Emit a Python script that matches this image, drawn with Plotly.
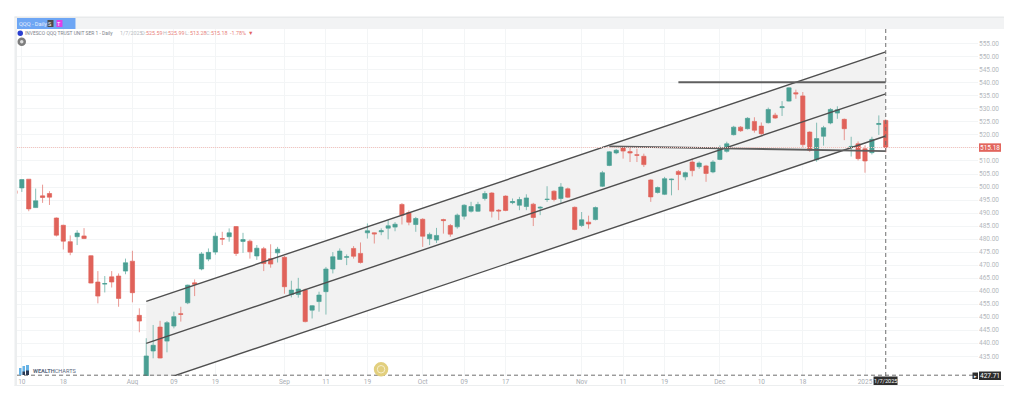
import plotly.graph_objects as go

dates = [
 "2024-07-09","2024-07-10","2024-07-11","2024-07-12","2024-07-15","2024-07-16","2024-07-17","2024-07-18","2024-07-19",
 "2024-07-22","2024-07-23","2024-07-24","2024-07-25","2024-07-26","2024-07-29","2024-07-30","2024-07-31",
 "2024-08-01","2024-08-02","2024-08-05","2024-08-06","2024-08-07","2024-08-08","2024-08-09","2024-08-12","2024-08-13","2024-08-14","2024-08-15","2024-08-16",
 "2024-08-19","2024-08-20","2024-08-21","2024-08-22","2024-08-23","2024-08-26","2024-08-27","2024-08-28","2024-08-29","2024-08-30",
 "2024-09-03","2024-09-04","2024-09-05","2024-09-06","2024-09-09","2024-09-10","2024-09-11","2024-09-12","2024-09-13","2024-09-16","2024-09-17","2024-09-18","2024-09-19","2024-09-20",
 "2024-09-23","2024-09-24","2024-09-25","2024-09-26","2024-09-27","2024-09-30",
 "2024-10-01","2024-10-02","2024-10-03","2024-10-04","2024-10-07","2024-10-08","2024-10-09","2024-10-10","2024-10-11","2024-10-14","2024-10-15","2024-10-16","2024-10-17","2024-10-18",
 "2024-10-21","2024-10-22","2024-10-23","2024-10-24","2024-10-25","2024-10-28","2024-10-29","2024-10-30","2024-10-31",
 "2024-11-01","2024-11-04","2024-11-05","2024-11-06","2024-11-07","2024-11-08","2024-11-11","2024-11-12","2024-11-13","2024-11-14","2024-11-15","2024-11-18","2024-11-19","2024-11-20","2024-11-21","2024-11-22","2024-11-25","2024-11-26","2024-11-27","2024-11-29",
 "2024-12-02","2024-12-03","2024-12-04","2024-12-05","2024-12-06","2024-12-09","2024-12-10","2024-12-11","2024-12-12","2024-12-13","2024-12-16","2024-12-17","2024-12-18","2024-12-19","2024-12-20","2024-12-23","2024-12-24","2024-12-26","2024-12-27","2024-12-30","2024-12-31",
 "2025-01-02","2025-01-03","2025-01-06","2025-01-07"]

opens = [498.6,499.65,503,492.1,496.6,497.5,488.1,485.3,479,480.9,481.2,473.6,463.5,462.7,465.5,465.8,467.7,471.5,450.7,427,
 437,446.2,440.8,446.6,451.3,455.5,463.2,468.5,472.3,475,480.2,480.9,484.8,479.1,479.2,473.5,476.3,472.5,474.7,473,
 458.7,458.7,460.4,452.7,456,459.8,468.5,472.2,473,476.4,474.5,482.4,482.4,482.8,484.2,484.6,493.3,490.2,485.6,487.6,
 480.1,479.6,487.5,485.2,484.7,488.8,490.7,490.7,495.6,497.7,491.1,496.5,494,493,492.5,493.4,491.9,495.2,498.4,495.6,
 499.3,492.2,485.2,486.5,487.5,500.3,508.3,513.1,515.1,513.6,512.4,511.8,502.7,497.9,497.2,502.8,506,503.9,509.6,507.8,
 508.1,505.8,510.6,513.7,520.1,523,522.4,525.2,523.4,524.7,527.6,530.5,533,536.2,535,521.1,510.5,519.5,524.6,528.4,
 526,515.1,516.6,514.7,513.2,524,525.59]
highs = [498.9,502.9,503,499.4,500.9,498.4,488.3,485.5,481.4,483.4,484.2,473.8,467.7,465.8,467.7,466.8,472.5,475.5,453.4,441.9,
 447,448.6,448.5,452.1,454,462.5,464.5,475,476.4,482.5,482.8,484.1,485,482.4,479.8,477.7,477,478,477,473.5,
 464,465.1,461,454.6,459.8,469.3,475,476.4,474.1,477.3,478.7,486,482.5,484.1,487.3,486.5,493.8,491,488.5,488,
 482.5,484.3,487.8,485.8,489.8,493.4,494.3,494.3,498.4,498,491.5,496.8,495.6,496.2,497.2,493.9,492.6,500.3,498.7,501.5,
 499.8,492.5,490.4,489,492.5,506.2,513.8,514.6,515.5,515.1,514.7,512.8,503,500.2,503.9,503.2,506.5,505.9,510.9,509.8,
 508.5,510.3,516,517.4,523.5,523.4,526.8,526.8,524.8,530.5,528.5,533,538.3,537.4,536.5,521.4,524.7,523.5,530.3,531,
 526.3,519.3,517.5,516,519.3,527.5,525.99]
lows = [497.4,498.1,490.7,492,493.9,493.1,481,476,473.8,477.7,480,463,455.3,459.5,461.4,454,466.5,455.7,444.2,425,
 434.2,434.2,436.5,445.7,448.3,455,458.1,468,471.5,474,477.7,479,473.5,474.7,472.5,472,467.7,469,471,459,
 457.6,457.5,448,449.5,452.1,451,466.8,472.2,470,472.5,470.6,480.2,478.3,481.5,479.9,483,485.6,485.3,482.8,477,
 477.7,478.5,482.1,480.9,484,487.5,490.2,490.5,494.8,488.3,487.3,490.7,493.4,491.1,491.1,485,489.2,494.3,494.5,493.9,
 495.8,483.4,484.6,484,487.2,500,508,512.6,510.9,509.6,509.6,507.7,494.3,497.5,496.9,496.8,498.8,502.6,504.1,507,
 502,505.3,510.3,513.2,519.8,521.2,522.1,520.9,520,524.4,526.2,527.3,532.8,533.9,515.2,513.5,509.7,515.9,524.1,526.2,
 518,511.7,510.2,505.5,512.5,520,513.28]
closes = [497.5,502.85,491.6,494.7,496,496.1,481.5,479.2,474.9,482.3,480.2,463.1,458.1,462.9,463.5,457.2,470.9,459.4,448.5,435.1,
 439.2,434.3,447.9,450.2,451.1,462.3,462.6,474.3,474.9,481.1,480,482.4,474.5,479.8,475.1,476.5,470.6,470.4,476.1,461.7,
 460.4,460.8,448.3,454.4,458.5,468.5,473.2,475.4,473.2,473.4,471,483.2,482,483.2,485.1,485.7,489.2,486.5,487.9,481.1,
 481.8,481.4,487.1,481.9,489.2,493,492.5,493.3,497.5,490.7,490.8,491,494.4,495.2,495.8,488.3,492.2,495.3,495.2,500,
 496.1,483.7,487.4,485.8,492.1,505.5,513.5,514.1,513.8,513.1,512.2,508.6,496.2,499.8,503.2,503,504.8,505.5,506.3,509.2,
 505.2,509.6,515,516.6,523,521.6,526.4,521.8,520.5,529.8,526.5,530.8,538.1,535.8,516.3,514.1,518.6,522.8,529.8,529.7,
 522.4,515.6,510.9,510,518.3,524.4,515.18]

tick_dates = ["2024-07-10","2024-07-18","2024-08-01","2024-08-09","2024-08-19","2024-09-03","2024-09-11","2024-09-19",
              "2024-10-01","2024-10-09","2024-10-17","2024-11-01","2024-11-11","2024-11-19","2024-12-02","2024-12-10","2024-12-18","2025-01-02"]
tick_labels = ["10","18","Aug","09","19","Sep","11","19","Oct","09","17","Nov","11","19","Dec","10","18","2025"]
price_ticks = [435,440,445,450,455,460,465,470,475,480,485,490,495,500,505,510,515,520,525,530,535,540,545,550,555]
price_labels = ["435.00","440.00","445.00","450.00","455.00","460.00","465.00","470.00","475.00","480.00","485.00","490.00","495.00",
                "500.00","505.00","510.00","515.00","520.00","525.00","530.00","535.00","540.00","545.00","550.00","555.00"]

channel_x = ["2024-08-05","2025-01-07"]
channel_upper = [456.05,551.9]
channel_mid = [439.95,535.8]
channel_lower = [423.85,519.6]
resistance_x = ["2024-11-21","2025-01-07"]
resistance_y = [540.2,540.2]
support_x = ["2024-11-07","2025-01-07"]
support_y = [515.6,513.8]
last_price = 515.18
cursor_price = 427.71
cursor_date = "2025-01-07"

TEAL = "#4a9f93"; RED = "#e0625a"; LINE = "#4f4f4f"; TXT = "#b4b8bd"
PAGE_OFFSET = 8
W, H = 1024 - PAGE_OFFSET, 396 - PAGE_OFFSET
LEFT, RIGHT, TOP, BOTTOM = 16.5, 978, 28.5, 376
def px(v): return (v - LEFT) / (RIGHT - LEFT)
def py(v): return (BOTTOM - v) / (BOTTOM - TOP)

XRANGE = [0.3, 139.35]
YRANGE = [427.4, 560.7]

fig = go.Figure()
fig.add_trace(go.Scatter(x=dates, y=[None]*len(dates), mode="lines", hoverinfo="skip", showlegend=False))
fig.add_trace(go.Scatter(x=channel_x, y=channel_lower, mode="lines", line=dict(width=0), hoverinfo="skip"))
fig.add_trace(go.Scatter(x=channel_x, y=channel_upper, mode="lines", line=dict(width=0), fill="tonexty",
                         fillcolor="#f2f2f2", hoverinfo="skip"))
over = dict(xaxis="x2", yaxis="y2")
fig.add_trace(go.Candlestick(x=dates, open=opens, high=highs, low=lows, close=closes,
    increasing=dict(line=dict(color="rgba(74,159,147,0.65)", width=1), fillcolor=TEAL),
    decreasing=dict(line=dict(color="rgba(224,98,90,0.65)", width=1), fillcolor=RED),
    whiskerwidth=0, **over))
for ys in (channel_upper, channel_mid, channel_lower):
    fig.add_trace(go.Scatter(x=channel_x, y=ys, mode="lines", line=dict(color=LINE, width=1.4), hoverinfo="skip", **over))
fig.add_trace(go.Scatter(x=resistance_x, y=resistance_y, mode="lines", line=dict(color="#5f5f5f", width=2), hoverinfo="skip", **over))
fig.add_trace(go.Scatter(x=support_x, y=support_y, mode="lines", line=dict(color="#5f5f5f", width=1.8), hoverinfo="skip", **over))

def rect(x0, x1, y0, y1, color, **kw):
    return dict(type="rect", xref="paper", yref="paper", x0=px(x0), x1=px(x1), y0=py(y1), y1=py(y0), fillcolor=color, line_width=0, **kw)
def disc(x0, x1, y0, y1, color):
    return dict(type="circle", xref="paper", yref="paper", x0=px(x0), x1=px(x1), y0=py(y1), y1=py(y0), fillcolor=color, line_width=0)

shapes = [
    rect(14, 16.5, 16, 386, "#eceeef"),
    rect(14, 1004, 385, 386, "#eceeef"),
    rect(14, 1004, 16, 17.5, "#e8eaeb"),
    rect(14, 1004, 17.5, 28.5, "#f2f3f4"),
    rect(16.5, 75, 17.5, 28.5, "#6ea6f4"),
    rect(47, 53, 19.5, 26.5, "#4a4a4a"),
    rect(56, 62, 19.5, 26.5, "#e040e8"),
    disc(17, 22.5, 30, 35.5, "#2a3fd0"),
    disc(17, 25.5, 37, 45.5, "#7d7d7d"),
    disc(19.5, 23, 39.5, 43, "#dddddd"),
    dict(type="line", xref="x domain", yref="y", x0=0, x1=1, y0=last_price, y1=last_price, line=dict(color="#f5c4bf", width=1, dash="1px,1px")),
    dict(type="line", xref="x", yref="y domain", x0=cursor_date, x1=cursor_date, y0=0, y1=1, line=dict(color="#6f6f6f", width=1, dash="4px,3px")),
    dict(type="line", xref="x domain", yref="y", x0=0, x1=1, y0=cursor_price, y1=cursor_price, line=dict(color="#6f6f6f", width=1, dash="4px,3px")),
    rect(979, 1001, 143, 151.5, "#e2655d"),
    rect(979, 1001, 371.5, 380, "#2e2e2e"),
    rect(972.5, 978, 372.5, 379, "#2e2e2e"),
    rect(873.5, 897.5, 376.5, 385, "#2e2e2e"),
    rect(18.5, 21, 368, 375, "#67b3e6"),
    rect(22, 24.5, 366, 375, "#67b3e6"),
    rect(25.5, 28.5, 365, 375, "#67b3e6"),
    rect(22, 24.5, 371.5, 375, "#2b3a55"),
    rect(25.5, 28.5, 370.5, 375, "#2b3a55"),
    disc(373.5, 388, 362, 376.5, "#e2cf7e"),
    dict(type="circle", xref="paper", yref="paper", x0=px(377), x1=px(384.5), y0=py(373), y1=py(365.5), fillcolor="rgba(0,0,0,0)", line=dict(color="#f6eecb", width=1)),
]

def note(x, y, text, color=TXT, size=7, anchor="left"):
    return dict(xref="paper", yref="paper", x=px(x), y=py(y), text=text, showarrow=False, xanchor=anchor, yanchor="middle",
                xshift=0, borderpad=0, font=dict(family="Roboto", size=size, color=color))

annotations = [
    note(18, 23, "QQQ - Daily", "#e6effd", 5.6),
    note(50, 23, "S", "#ffffff", 5.5, "center"),
    note(59, 23, "T", "#ffffff", 5.5, "center"),
    note(24, 32.5, "INVESCO QQQ TRUST UNIT SER 1 - Daily", "#7d828a", 4.9),
    note(118.5, 32.5, "1/7/2025", "#b8bcc2", 5.4),
    note(140, 32.5, "O:", "#b8bcc2", 5.4),
    note(145, 32.5, "525.59", "#e8827b", 5.4),
    note(162, 32.5, "H:", "#b8bcc2", 5.4),
    note(167, 32.5, "525.99", "#e8827b", 5.4),
    note(184, 32.5, "L:", "#b8bcc2", 5.4),
    note(188.5, 32.5, "513.28", "#e8827b", 5.4),
    note(205, 32.5, "C:", "#b8bcc2", 5.4),
    note(210, 32.5, "515.18", "#e8827b", 5.4),
    note(229, 32.5, "-1.78%", "#e8827b", 5.4),
    note(247, 32.5, "▼", "#e2655d", 5.5),
    note(990, 147.3, "515.18", "#ffffff", 6.5, "center"),
    note(990, 375.8, "427.71", "#ffffff", 6.5, "center"),
    note(975.3, 375.8, "▸", "#ffffff", 5, "center"),
    note(885.5, 380.8, "1/7/2025", "#ffffff", 5.6, "center"),
    note(31.5, 371, "<b>WEALTH</b>CHARTS", "#5c6a80", 5.6),
]

hidden_x = dict(type="category", categoryorder="array", categoryarray=dates, range=XRANGE, rangeslider=dict(visible=False))
fig.update_layout(
    width=W, height=H, autosize=False, showlegend=False, paper_bgcolor="#ffffff", plot_bgcolor="#ffffff",
    margin=dict(l=LEFT-PAGE_OFFSET, r=1024-RIGHT, t=TOP-PAGE_OFFSET, b=396-BOTTOM), shapes=shapes, annotations=annotations, boxgap=0.12,
    xaxis=dict(**hidden_x, tickmode="array", tickvals=tick_dates, ticktext=tick_labels, showgrid=True, gridcolor="#f3f5f6", gridwidth=1,
               tickfont=dict(family="Roboto", size=6.5, color="#a9adb3"), ticks="", ticklen=0, showline=False, zeroline=False, tickangle=0),
    yaxis=dict(side="right", range=YRANGE, tickmode="array", tickvals=price_ticks, ticktext=price_labels,
               showgrid=True, gridcolor="#f3f5f6", gridwidth=1, tickfont=dict(family="Roboto", size=6.5, color=TXT),
               ticks="", showline=False, zeroline=False),
    xaxis2=dict(**hidden_x, overlaying="x", visible=False),
    yaxis2=dict(range=YRANGE, overlaying="y", side="right", visible=False),
)
fig.write_html("out.html")
